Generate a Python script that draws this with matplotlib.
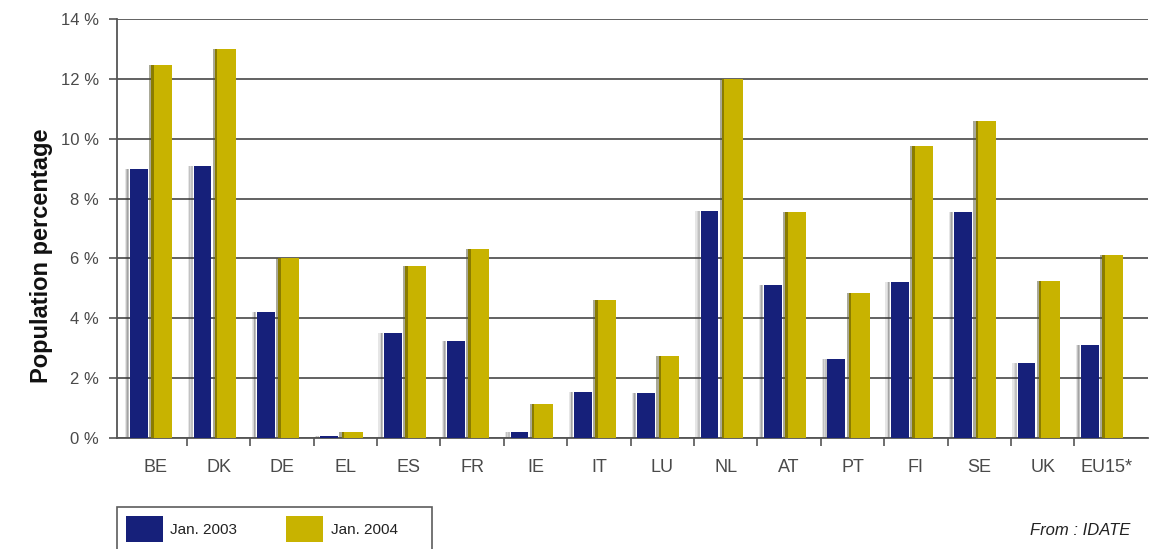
import matplotlib
matplotlib.use("Agg")
import matplotlib.pyplot as plt
from matplotlib.patches import Patch
import numpy as np

countries = ["BE", "DK", "DE", "EL", "ES", "FR", "IE", "IT", "LU", "NL",
             "AT", "PT", "FI", "SE", "UK", "EU15*"]
jan2003 = [9.0, 9.1, 4.2, 0.05, 3.5, 3.25, 0.2, 1.55, 1.5, 7.6,
           5.1, 2.65, 5.2, 7.55, 2.5, 3.1]
jan2004 = [12.45, 13.0, 6.0, 0.2, 5.75, 6.3, 1.15, 4.6, 2.75, 12.0,
           7.55, 4.85, 9.75, 10.6, 5.25, 6.1]
yticks = [0, 2, 4, 6, 8, 10, 12, 14]

blue = "#16207a"
gold = "#c8b300"
grid_col = "#555555"
text_col = "#4a4a4a"

plt.rcParams['font.family'] = ['Liberation Sans', 'DejaVu Sans']

fig = plt.figure(figsize=(11.5, 5.49), dpi=100)
ax = fig.add_axes([0.1017, 0.2022, 0.8965, 0.7632])

x = np.arange(len(countries))
w1, w2 = 0.28, 0.33
off1, off2 = -0.255, 0.105

# soft shadows on the left side of each bar
for k, a in enumerate([0.12, 0.2, 0.3]):
    ax.bar(x + off1 - w1 / 2 - 0.07 + 0.02 * k, jan2003, width=0.03,
           color="#333333", alpha=a, zorder=2, linewidth=0)
ax.bar(x + off2 - w2 / 2 - 0.015, jan2004, width=0.04, color="#555533",
       alpha=0.5, zorder=2, linewidth=0)

ax.bar(x + off1, jan2003, width=w1, color=blue, zorder=3, linewidth=0)
ax.bar(x + off2, jan2004, width=w2, color=gold, zorder=3, linewidth=0)
# darker left edge on the gold bars
ax.bar(x + off2 - w2 / 2 + 0.02, jan2004, width=0.04, color="#8a7c00",
       zorder=4, linewidth=0)

ax.set_xlim(-0.604, 15.66)
ax.set_ylim(0, 14)

ax.set_yticks(yticks)
ax.set_yticklabels([f"{v} %" for v in yticks], fontsize=12, color=text_col)
ax.yaxis.grid(True, color=grid_col, linewidth=1.3, zorder=1)
ax.tick_params(axis="y", length=6, width=1.2, color=grid_col, pad=7)

ax.set_xticks(x)
ax.set_xticklabels(countries, fontsize=13, color=text_col)
ax.set_xticks(np.arange(0.5, 15, 1), minor=True)
ax.tick_params(axis="x", which="major", length=0, pad=15)
ax.tick_params(axis="x", which="minor", length=6, width=1.2, color=grid_col)

for s in ["top", "right"]:
    ax.spines[s].set_visible(False)
ax.spines["left"].set_color(grid_col)
ax.spines["left"].set_linewidth(1.3)
ax.spines["bottom"].set_color(grid_col)
ax.spines["bottom"].set_linewidth(1.3)
ax.set_axisbelow(True)

fig.text(0.036, 0.535, "Population percentage", rotation=90, ha="center",
         va="center", fontsize=17, fontweight="bold", color="#111111",
         family=["Liberation Sans Narrow", "Liberation Sans", "DejaVu Sans"])

handles = [Patch(facecolor=blue, edgecolor="none", label="Jan. 2003"),
           Patch(facecolor=gold, edgecolor="none", label="Jan. 2004      ")]
leg = fig.legend(handles=handles, loc="upper left",
                 bbox_to_anchor=(117 / 1150, 1 - 507 / 549), ncol=2,
                 borderaxespad=0, fontsize=11, frameon=True, fancybox=False,
                 handlelength=2.4, handleheight=2.2, columnspacing=3.2,
                 borderpad=0.6, handletextpad=0.5)
leg.get_frame().set_edgecolor("#333333")
leg.get_frame().set_linewidth(1.2)
for t in leg.get_texts():
    t.set_color("#222222")

fig.text(0.983, 0.033, "From : IDATE", ha="right", va="center",
         fontsize=12, style="italic", color="#222222")

fig.savefig("out.png", dpi=100)
